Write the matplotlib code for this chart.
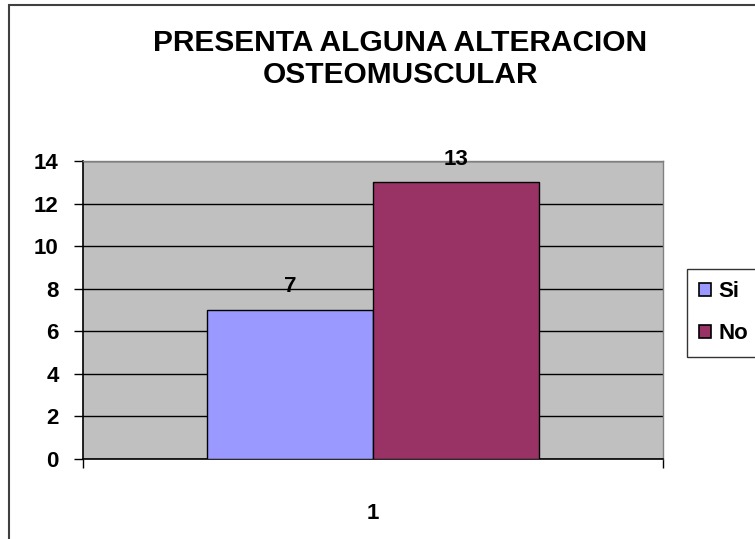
import matplotlib.pyplot as plt
from matplotlib.patches import Rectangle, Patch

# data
categories = ["1"]
series_names = ["Si", "No"]
values = [7, 13]
colors = ["#9999FF", "#993366"]
title_lines = ["PRESENTA ALGUNA ALTERACION", "OSTEOMUSCULAR"]
yticks = [0, 2, 4, 6, 8, 10, 12, 14]

plt.rcParams["font.family"] = ["Liberation Sans", "DejaVu Sans"]
plt.rcParams["font.weight"] = "bold"

W, H = 755, 539
fig = plt.figure(figsize=(W / 100, H / 100), dpi=100)
fig.patch.set_facecolor("white")

# outer chart border (right/bottom run off the picture)
fig.add_artist(Rectangle((9 / W, -0.05), 1.2, 1 - 5 / H + 0.05, transform=fig.transFigure,
                         fill=False, edgecolor="#404040", linewidth=1.5))

ax = fig.add_axes([83 / W, 1 - 459 / H, (663 - 83) / W, (459 - 161) / H])
ax.set_facecolor("#C0C0C0")

bw = 0.286
x0 = 1
for i, (name, v, c) in enumerate(zip(series_names, values, colors)):
    xc = x0 + (i - 0.5) * bw
    ax.bar(xc, v, width=bw, color=c, edgecolor="black", linewidth=1, zorder=3)
    ax.annotate(str(v), (xc, v), xytext=(0, 9), textcoords="offset points",
                ha="center", va="bottom", fontsize=16, fontweight="bold")

ax.set_xlim(0.5, 1.5)
ax.set_ylim(0, 14)
ax.set_yticks(yticks)
ax.yaxis.grid(True, color="black", linewidth=1, zorder=1)
ax.set_axisbelow(True)

ax.set_xticks([1])
ax.set_xticklabels(categories)
ax.set_xticks([0.5, 1.5], minor=True)
ax.tick_params(axis="x", which="major", length=0, pad=32, labelsize=16)
ax.tick_params(axis="x", which="minor", length=6.5, width=1, direction="out")
ax.tick_params(axis="y", length=6.5, width=1, direction="out", pad=11, labelsize=16)

for s in ["top", "right"]:
    ax.spines[s].set_color("#808080")
    ax.spines[s].set_linewidth(1)
for s in ["left", "bottom"]:
    ax.spines[s].set_color("black")
    ax.spines[s].set_linewidth(1.2)

fig.text(400 / W, 1 - 43 / H, title_lines[0], ha="center", va="center",
         fontsize=21.5, fontweight="bold")
fig.text(400 / W, 1 - 75 / H, title_lines[1], ha="center", va="center",
         fontsize=21.5, fontweight="bold")

handles = [Patch(facecolor=c, edgecolor="black", linewidth=1.2) for c in colors]
leg = fig.legend(handles, series_names, loc="upper left",
                 bbox_to_anchor=(687 / W, 1 - 269 / H), fontsize=16,
                 frameon=True, fancybox=False, handlelength=0.55, handleheight=0.55,
                 handletextpad=0.3, labelspacing=0.95, borderpad=0.55, borderaxespad=0)
leg.get_frame().set_edgecolor("black")
leg.get_frame().set_linewidth(1)

fig.savefig("out.png", dpi=100)
